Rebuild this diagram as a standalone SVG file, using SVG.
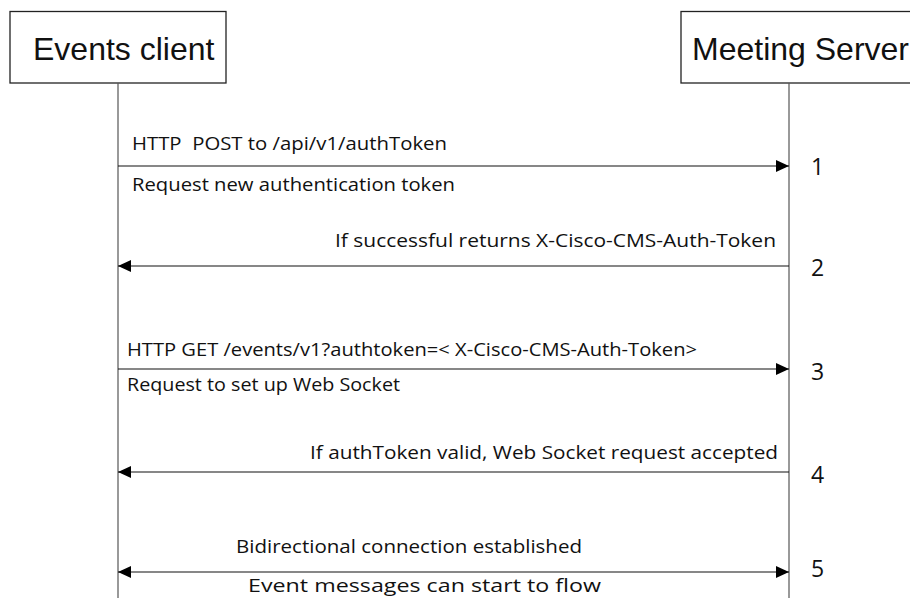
<svg xmlns="http://www.w3.org/2000/svg" width="910" height="598" viewBox="0 0 910 598">
<style>
.box{fill:#fff;stroke:#222;stroke-width:1.3}
.life{stroke:#555;stroke-width:1.2}
.msg{stroke:#111;stroke-width:1.2;fill:none}
.title{font-family:"Liberation Sans",Arial,sans-serif;font-size:32px;fill:#111}
.lbl{font-family:"Open Sans","Noto Sans",sans-serif;font-size:18px;fill:#111}
.num{font-family:"Open Sans","Noto Sans",sans-serif;font-size:23px;fill:#111}
</style>
<defs>
<marker id="ah" markerWidth="14" markerHeight="12" refX="13" refY="6" orient="auto-start-reverse" markerUnits="userSpaceOnUse">
<path d="M0,0 L13,6 L0,12 Z" fill="#000"/>
</marker>
</defs>
<g id="events-client">
<rect class="box" x="10" y="11.5" width="216" height="71.5"/>
<text class="title" x="33" y="60">Events client</text>
<line class="life" x1="118" y1="83" x2="118" y2="598"/>
</g>
<g id="meeting-server">
<rect class="box" x="681" y="11.5" width="240" height="71.5"/>
<text class="title" x="692" y="60">Meeting Server</text>
<line class="life" x1="789" y1="83" x2="789" y2="598"/>
</g>
<g id="connectors">
<line class="msg" x1="118" y1="166" x2="789" y2="166" marker-end="url(#ah)"/>
<line class="msg" x1="789" y1="266" x2="118" y2="266" marker-end="url(#ah)"/>
<line class="msg" x1="118" y1="369" x2="789" y2="369" marker-end="url(#ah)"/>
<line class="msg" x1="789" y1="472" x2="118" y2="472" marker-end="url(#ah)"/>
<line class="msg" x1="118" y1="572" x2="789" y2="572" marker-start="url(#ah)" marker-end="url(#ah)"/>
</g>
<g id="labels">
<text class="lbl" x="132" y="150" xml:space="preserve" textLength="315" lengthAdjust="spacingAndGlyphs">HTTP  POST to /api/v1/authToken</text>
<text class="lbl" x="132" y="191" textLength="323" lengthAdjust="spacingAndGlyphs">Request new authentication token</text>
<text class="lbl" x="335" y="247" textLength="441" lengthAdjust="spacingAndGlyphs">If successful returns X-Cisco-CMS-Auth-Token</text>
<text class="lbl" x="127" y="356" textLength="570" lengthAdjust="spacingAndGlyphs">HTTP GET /events/v1?authtoken=&lt; X-Cisco-CMS-Auth-Token&gt;</text>
<text class="lbl" x="127" y="391" textLength="273" lengthAdjust="spacingAndGlyphs">Request to set up Web Socket</text>
<text class="lbl" x="310" y="459" textLength="468" lengthAdjust="spacingAndGlyphs">If authToken valid, Web Socket request accepted</text>
<text class="lbl" x="236" y="553" textLength="346" lengthAdjust="spacingAndGlyphs">Bidirectional connection established</text>
<text class="lbl" x="248" y="592" textLength="353" lengthAdjust="spacingAndGlyphs">Event messages can start to flow</text>
<text class="num" x="811" y="175">1</text>
<text class="num" x="811" y="276">2</text>
<text class="num" x="811" y="380">3</text>
<text class="num" x="811" y="483">4</text>
<text class="num" x="811" y="577">5</text>
</g>
</svg>
